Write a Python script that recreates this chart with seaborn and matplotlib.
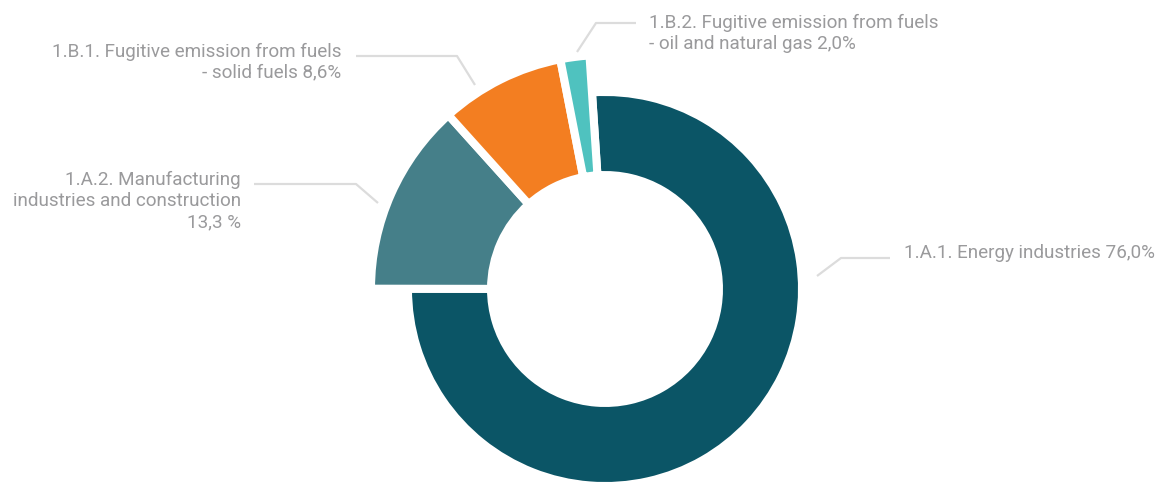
import matplotlib
matplotlib.use("Agg")
import matplotlib.pyplot as plt
import seaborn as sns

# data
labels = ["1.A.1. Energy industries 76,0%",
          "1.A.2. Manufacturing\nindustries and construction\n13,3 %",
          "1.B.1. Fugitive emission from fuels\n- solid fuels 8,6%",
          "1.B.2. Fugitive emission from fuels\n- oil and natural gas 2,0%"]
shares = [76.0, 13.3, 8.6, 2.0]
colors = ["#0b5566", "#457f89", "#f37e21", "#4fc2bf"]

sns.set_theme(style="white")
plt.rcParams['font.family'] = ['Roboto', 'DejaVu Sans']

W, H = 1162, 482
fig = plt.figure(figsize=(W / 100, H / 100), dpi=100)
ax = fig.add_axes([0, 0, 1, 1])

# pixel layout: centre of ring and px per data unit
CX, CY, R = 605, 289, 234


def px(x, y):
    return (x - CX) / R, (CY - y) / R


wedges, _ = ax.pie(shares, colors=colors, startangle=93.8, counterclock=False,
                   radius=1.0,
                   wedgeprops=dict(width=0.513, edgecolor="white", linewidth=5.8))
# the big slice is drawn with a smaller outer radius
wedges[0].set_radius(0.842)
wedges[0].set_width(0.842 - 0.487)

ax.set_xlim(-CX / R, (W - CX) / R)
ax.set_ylim(-(H - CY) / R, CY / R)
ax.set_aspect("equal")
ax.axis("off")

txt = "#9a9a9c"
line = "#dcdcdc"
leaders = [
    [(817, 276), (841, 258), (890, 258)],
    [(378, 203), (356, 184), (254, 184)],
    [(475, 85), (457, 56), (356, 56)],
    [(577, 52), (596, 23), (636, 23)],
]
spots = [((904, 253), "left"), ((241, 201), "right"),
         ((341, 62), "right"), ((649, 33), "left")]

for lab, pts, (pos, ha) in zip(labels, leaders, spots):
    xs, ys = zip(*[px(*p) for p in pts])
    ax.plot(xs, ys, color=line, lw=1.6, solid_capstyle="butt")
    ax.text(*px(*pos), lab, ha=ha, va="center", multialignment=ha,
            color=txt, fontsize=13.6, linespacing=1.22)

fig.savefig("out.png", dpi=100)
